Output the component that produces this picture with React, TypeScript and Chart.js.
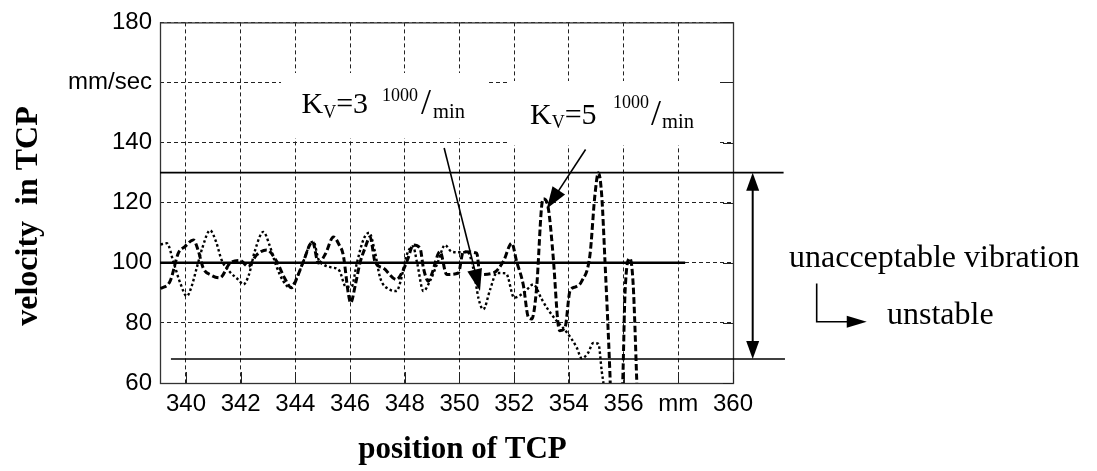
import React, { useEffect, useRef } from 'react';
import { Chart, registerables } from 'chart.js';

Chart.register(...registerables);

// ---------- axis ticks ----------
const xTickValues = [340, 342, 344, 346, 348, 350, 352, 354, 356, 358, 360];
const xTickLabels = ['340', '342', '344', '346', '348', '350', '352', '354', '356', 'mm', '360'];
const yTickValues = [60, 80, 100, 120, 140, 160, 180];
const yTickLabels = ['60', '80', '100', '120', '140', 'mm/sec', '180'];

// ---------- K_V = 3 (dotted) ----------
const kv3Position = [
  339.07, 339.3, 339.55, 339.8, 340.03, 340.2, 340.39, 340.6, 340.88, 341.1, 341.3, 341.6, 341.9, 342.1,
  342.3, 342.52, 342.83, 343.05, 343.3, 343.55, 343.8, 344.05, 344.29, 344.55, 344.66, 344.85, 345.05,
  345.3, 345.6, 345.85, 346.05, 346.25, 346.5, 346.7, 346.9, 347.1, 347.45, 347.7, 347.85, 348.07, 348.3,
  348.45, 348.68, 348.92, 349.2, 349.47, 349.71, 350.0, 350.3, 350.5, 350.7, 350.87, 351.12, 351.36,
  351.7, 352.0, 352.35, 352.7, 353.0, 353.19, 353.55, 353.92, 354.28, 354.47, 354.7, 354.89, 355.08,
  355.2, 355.3, 355.36
];
const kv3Velocity = [
  106.1, 106.5, 100, 93, 88.9, 92, 98.2, 105, 110.8, 107, 101, 97, 94.5, 92.8,
  96, 104, 110.3, 106, 99, 94, 91.7, 95, 100.4, 106.5, 107, 101, 99.3,
  98.5, 97.5, 92, 92, 100, 108, 110, 104, 95, 91.1, 90.6, 94, 102.6, 105.5,
  100, 90.6, 93.9, 100, 105.9, 103.7, 103.5, 103.5, 98.3, 88, 84.5, 91.1, 96.6,
  96.5, 88.4, 90, 92.8, 88, 85.1, 80.7, 76.9, 71.9, 68.2, 70, 73.3, 73,
  64, 57, 50
];

// ---------- K_V = 5 (dashed) ----------
const kv5Position = [
  339.07, 339.42, 339.72, 339.96, 340.27, 340.45, 340.63, 340.9, 341.24, 341.61, 341.97, 342.28, 342.58,
  342.95, 343.32, 343.6, 343.86, 344.1, 344.29, 344.63, 344.84, 345.1, 345.39, 345.6, 345.75, 345.94,
  346.02, 346.2, 346.36, 346.55, 346.73, 346.91, 347.22, 347.7, 347.89, 348.1, 348.31, 348.56, 348.68,
  348.86, 348.98, 349.29, 349.53, 349.96, 350.14, 350.63, 350.75, 351.24, 351.6, 351.91, 352.09, 352.33,
  352.52, 352.64, 352.82, 353.0, 353.07, 353.25, 353.43, 353.6, 353.67, 353.86, 354.04, 354.25, 354.47,
  354.77, 354.95, 355.08, 355.2, 355.32, 355.5, 355.55, 355.9, 355.97, 356.05, 356.23, 356.35, 356.48, 356.52
];
const kv5Velocity = [
  91.4, 93.9, 103.2, 105.4, 107.6, 104, 98.2, 96, 95, 99.9, 100.8, 98.8, 102.6,
  104.3, 100.4, 95, 91.7, 96, 100.4, 107, 99.9, 103, 108.6, 106, 102.6, 89.5,
  86.7, 93, 99.9, 105, 108.6, 100.4, 98.2, 94.4, 96.6, 101, 105.9, 104.8, 98.3,
  93.9, 96.1, 103.7, 96.1, 96.6, 103.7, 103.2, 96.1, 96.6, 100.4, 106.5, 100.4, 92.8,
  81.8, 81.3, 91.7, 118.5, 121.3, 118, 101.5, 80, 77.4, 78.5, 90.6, 92, 93.9,
  102.6, 122.4, 130, 122.4, 100.4, 63.2, 50, 50, 61, 89.5, 101.5, 92.8, 61, 50
];

// ---------- reference lines ----------
const nominalX = [339.05, 358.25];
const nominalY = [100, 100];
const upperLimitX = [339.05, 361.85];
const upperLimitY = [130, 130];
const lowerLimitX = [339.45, 361.9];
const lowerLimitY = [68, 68];

// ---------- annotation arrows (data coordinates) ----------
const arrowKv3 = { from: [349.44, 138.2], to: [350.75, 90.6] };
const arrowKv5 = { from: [354.61, 137.7], to: [353.19, 117.96] };
const rangeArrow = { x: 360.72, top: 130, bottom: 68 };
const unstableArrow = { start: [363.06, 93.1], corner: [363.06, 80.4], tip: [364.89, 80.4] };

const zip = (xs: number[], ys: number[]) => xs.map((x, i) => ({ x, y: ys[i] }));

const SERIF = '"Liberation Serif", "Times New Roman", serif';
const SANS = '"Liberation Sans", Arial, sans-serif';

function arrowHead(ctx: CanvasRenderingContext2D, x1: number, y1: number, x2: number, y2: number, len: number, half: number) {
  const a = Math.atan2(y2 - y1, x2 - x1);
  ctx.beginPath();
  ctx.moveTo(x2, y2);
  ctx.lineTo(x2 - len * Math.cos(a) + half * Math.sin(a), y2 - len * Math.sin(a) - half * Math.cos(a));
  ctx.lineTo(x2 - len * Math.cos(a) - half * Math.sin(a), y2 - len * Math.sin(a) + half * Math.cos(a));
  ctx.closePath();
  ctx.fill();
}

function arrowLine(ctx: CanvasRenderingContext2D, x1: number, y1: number, x2: number, y2: number, len: number, half: number) {
  const a = Math.atan2(y2 - y1, x2 - x1);
  ctx.beginPath();
  ctx.moveTo(x1, y1);
  ctx.lineTo(x2 - (len - 2) * Math.cos(a), y2 - (len - 2) * Math.sin(a));
  ctx.stroke();
  arrowHead(ctx, x1, y1, x2, y2, len, half);
}

type Part = { t: string; size: number; x?: number; base: number; gap?: number };
function drawParts(ctx: CanvasRenderingContext2D, startX: number, parts: Part[]) {
  let x = startX;
  parts.forEach((p) => {
    if (p.x !== undefined) x = p.x;
    ctx.font = `${p.size}px ${SERIF}`;
    ctx.fillText(p.t, x, p.base);
    x += ctx.measureText(p.t).width + (p.gap || 0);
  });
}

const decorPlugin = {
  id: 'decor',
  beforeDatasetsDraw(chart: any) {
    const { ctx, chartArea: a } = chart;
    const xs = chart.scales.x;
    const ys = chart.scales.y;
    ctx.save();
    // white label boxes that hide the grid
    ctx.fillStyle = '#fff';
    ctx.fillRect(281, 73, 206, 65);
    ctx.fillRect(507, 81, 210, 64);
    // frame
    ctx.strokeStyle = '#333';
    ctx.lineWidth = 1.3;
    ctx.strokeRect(a.left + 0.5, a.top + 0.5, a.right - a.left, a.bottom - a.top);
    // inward ticks
    ctx.lineWidth = 1;
    ctx.strokeStyle = '#222';
    xTickValues.forEach((v) => {
      const p = Math.round(xs.getPixelForValue(v)) + 0.5;
      ctx.beginPath();
      ctx.moveTo(p, a.bottom);
      ctx.lineTo(p, a.bottom - 11);
      ctx.stroke();
    });
    yTickValues.forEach((v) => {
      const p = Math.round(ys.getPixelForValue(v)) + 0.5;
      ctx.beginPath();
      ctx.moveTo(a.right, p);
      ctx.lineTo(a.right - 10, p);
      ctx.stroke();
    });
    ctx.restore();
  },
  afterDraw(chart: any) {
    const { ctx } = chart;
    const xs = chart.scales.x;
    const ys = chart.scales.y;
    const px = (v: number) => xs.getPixelForValue(v);
    const py = (v: number) => ys.getPixelForValue(v);
    ctx.save();
    ctx.fillStyle = '#000';
    ctx.strokeStyle = '#000';

    // arrows from labels
    ctx.lineWidth = 1.6;
    arrowLine(ctx, px(arrowKv3.from[0]), py(arrowKv3.from[1]), px(arrowKv3.to[0]), py(arrowKv3.to[1]), 22, 7.5);
    arrowLine(ctx, px(arrowKv5.from[0]), py(arrowKv5.from[1]), px(arrowKv5.to[0]), py(arrowKv5.to[1]), 22, 7.5);

    // vertical double arrow
    ctx.lineWidth = 2;
    const vx = px(rangeArrow.x);
    const vt = py(rangeArrow.top);
    const vb = py(rangeArrow.bottom);
    ctx.beginPath();
    ctx.moveTo(vx, vt + 15);
    ctx.lineTo(vx, vb - 15);
    ctx.stroke();
    arrowHead(ctx, vx, vb, vx, vt, 18, 6.5);
    arrowHead(ctx, vx, vt, vx, vb, 18, 6.5);

    // L-shaped arrow
    ctx.lineWidth = 1.6;
    const sx = px(unstableArrow.start[0]);
    const sy = py(unstableArrow.start[1]);
    const cx = px(unstableArrow.corner[0]);
    const cy = py(unstableArrow.corner[1]);
    const tx = px(unstableArrow.tip[0]);
    const ty = py(unstableArrow.tip[1]);
    ctx.beginPath();
    ctx.moveTo(sx, sy);
    ctx.lineTo(cx, cy);
    ctx.lineTo(tx - 16, ty);
    ctx.stroke();
    arrowHead(ctx, cx, cy, tx, ty, 20, 6);

    // texts
    ctx.textAlign = 'left';
    ctx.textBaseline = 'alphabetic';
    drawParts(ctx, 301.5, [
      { t: 'K', size: 30, base: 113 },
      { t: 'V', size: 18, base: 117.5 },
      { t: '=3', size: 30, base: 113 },
      { t: '1000', size: 18, base: 100.5, x: 382 },
      { t: '/', size: 36, base: 114, x: 421 },
      { t: 'min', size: 20.5, base: 118, x: 433 },
    ]);
    drawParts(ctx, 530, [
      { t: 'K', size: 30, base: 123.5 },
      { t: 'V', size: 18, base: 128 },
      { t: '=5', size: 30, base: 123.5 },
      { t: '1000', size: 18, base: 108, x: 613 },
      { t: '/', size: 36, base: 124.5, x: 651 },
      { t: 'min', size: 20.5, base: 128, x: 662 },
    ]);

    ctx.font = `32px ${SERIF}`;
    ctx.fillText('unacceptable vibration', 789, 267);
    ctx.fillText('unstable', 887, 324);

    ctx.font = `bold 31px ${SERIF}`;
    ctx.textAlign = 'center';
    ctx.fillText('position of TCP', 462.5, 458);

    ctx.translate(37, 216);
    ctx.rotate(-Math.PI / 2);
    ctx.font = `bold 32px ${SERIF}`;
    ctx.fillText('velocity  in TCP', 0, 0);
    ctx.restore();
  },
};

export default function App() {
  const canvasRef = useRef<HTMLCanvasElement | null>(null);

  useEffect(() => {
    const canvas = canvasRef.current;
    if (!canvas) return;
    const chart = new Chart(canvas, {
      type: 'line',
      data: {
        datasets: [
          {
            label: 'K_V=3',
            data: zip(kv3Position, kv3Velocity),
            borderColor: '#000',
            borderWidth: 2.4,
            borderDash: [2.5, 2.5],
            pointRadius: 0,
            cubicInterpolationMode: 'monotone',
            fill: false,
          },
          {
            label: 'K_V=5',
            data: zip(kv5Position, kv5Velocity),
            borderColor: '#000',
            borderWidth: 3,
            borderDash: [6.5, 3],
            pointRadius: 0,
            cubicInterpolationMode: 'monotone',
            fill: false,
          },
          {
            label: 'nominal',
            data: zip(nominalX, nominalY),
            borderColor: '#000',
            borderWidth: 2.6,
            pointRadius: 0,
            fill: false,
          },
          {
            label: 'upper',
            data: zip(upperLimitX, upperLimitY),
            borderColor: '#000',
            borderWidth: 1.6,
            pointRadius: 0,
            fill: false,
            clip: false,
          },
          {
            label: 'lower',
            data: zip(lowerLimitX, lowerLimitY),
            borderColor: '#000',
            borderWidth: 1.6,
            pointRadius: 0,
            fill: false,
            clip: false,
          },
        ],
      } as any,
      options: {
        responsive: false,
        animation: false,
        events: [],
        layout: { padding: { left: 0, top: 18, right: 364, bottom: 0 } },
        plugins: { legend: { display: false }, tooltip: { enabled: false }, title: { display: false } },
        scales: {
          x: {
            type: 'linear',
            min: 339.05,
            max: 360,
            afterBuildTicks: (scale: any) => {
              scale.ticks = xTickValues.map((v) => ({ value: v }));
            },
            afterFit: (scale: any) => {
              scale.height = 88;
            },
            grid: { color: '#222', lineWidth: 1, drawTicks: false },
            border: { display: false, dash: [4, 3] },
            ticks: {
              autoSkip: false,
              maxRotation: 0,
              padding: 7,
              color: '#000',
              font: { family: SANS, size: 24 },
              callback: (v: any) => {
                const i = xTickValues.indexOf(Number(v));
                return i >= 0 ? xTickLabels[i] : '';
              },
            },
          },
          y: {
            type: 'linear',
            min: 60,
            max: 180,
            afterBuildTicks: (scale: any) => {
              scale.ticks = yTickValues.map((v) => ({ value: v }));
            },
            afterFit: (scale: any) => {
              scale.width = 160;
            },
            grid: { color: '#222', lineWidth: 1, drawTicks: false },
            border: { display: false, dash: [4, 3] },
            ticks: {
              padding: 8,
              color: '#000',
              font: { family: SANS, size: 24 },
              callback: (v: any) => {
                const i = yTickValues.indexOf(Number(v));
                return i >= 0 ? yTickLabels[i] : '';
              },
            },
          },
        },
      } as any,
      plugins: [decorPlugin],
    });
    return () => chart.destroy();
  }, []);

  return (
    <div style={{ position: 'fixed', left: 0, top: 0, width: 1097, height: 471, background: '#fff' }}>
      <canvas ref={canvasRef} width={1097} height={471} style={{ display: 'block' }} />
    </div>
  );
}
